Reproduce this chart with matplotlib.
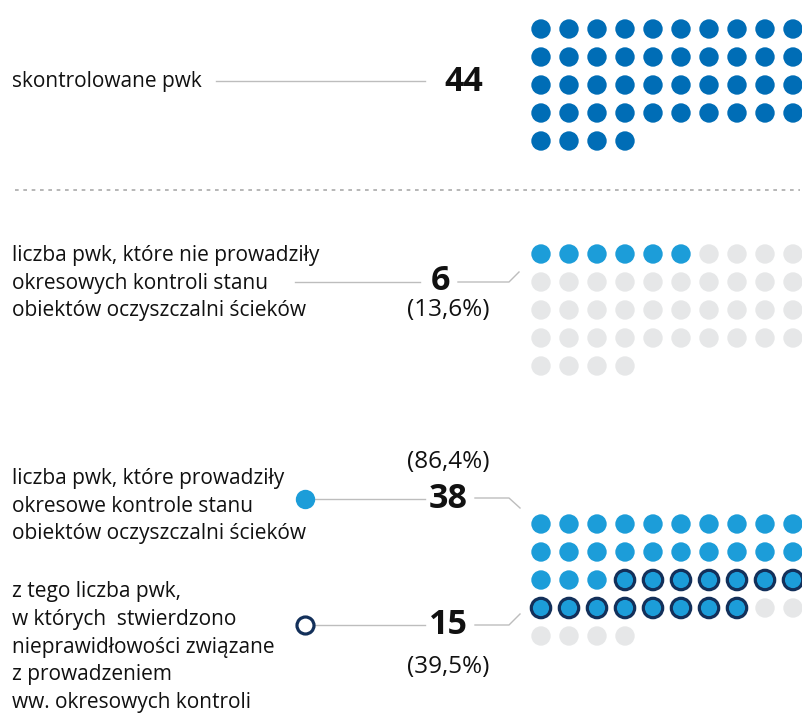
import matplotlib
matplotlib.use("Agg")
import matplotlib.pyplot as plt

plt.rcParams['font.family'] = ['Open Sans', 'DejaVu Sans']

# data
total = 44
not_controlled = 6
controlled = 38
irregular = 15
pct_not = "(13,6%)"
pct_yes = "(86,4%)"
pct_irr = "(39,5%)"

label_total = "skontrolowane pwk"
label_not = "liczba pwk, które nie prowadziły\nokresowych kontroli stanu\nobiektów oczyszczalni ścieków"
label_yes = "liczba pwk, które prowadziły\nokresowe kontrole stanu\nobiektów oczyszczalni ścieków"
label_irr = ("z tego liczba pwk,\nw których  stwierdzono\nnieprawidłowości związane\n"
             "z prowadzeniem\nww. okresowych kontroli")

DARK = "#006db6"
LIGHT = "#1c9dd9"
GREY = "#e6e7e8"
NAVY = "#13305a"
LINE = "#bdbdbd"
TXT = "#111111"

W, H = 802, 713
fig = plt.figure(figsize=(W / 100, H / 100), dpi=100)
ax = fig.add_axes([0, 0, 1, 1])
ax.set_xlim(0, W)
ax.set_ylim(H, 0)
ax.axis("off")

COLS = 10
X0, DX = 541, 28
DOT = 195


def grid(y0, n_total, colors, edges=None):
    xs, ys = [], []
    for i in range(n_total):
        r, c = divmod(i, COLS)
        xs.append(X0 + c * DX)
        ys.append(y0 + r * 28)
    if edges is None:
        ax.scatter(xs, ys, s=DOT, c=colors, linewidths=0, zorder=3)
    else:
        ax.scatter(xs, ys, s=DOT, c=colors, edgecolors=edges,
                   linewidths=[2.3 if e != "none" else 0 for e in edges], zorder=3)


# grid 1: all controlled
grid(29, total, [DARK] * total)

# grid 2: not controlled
grid(254, total, [LIGHT] * not_controlled + [GREY] * (total - not_controlled))

# grid 3: controlled, last ones with irregularities
cols3 = [LIGHT] * controlled + [GREY] * (total - controlled)
edges3 = ["none"] * (controlled - irregular) + [NAVY] * irregular + ["none"] * (total - controlled)
grid(524, total, cols3, edges3)

# separator
ax.plot([15, 800], [190, 190], color="#aaaaaa", lw=1.2, ls=(0, (2.2, 2.8)))

fs = 15
fs_num = 24.5
fs_pct = 17.5
ls = 1.42
# block 1
ax.text(12, 81, label_total, fontsize=fs, color=TXT, va="center", ha="left")
ax.plot([216, 425], [81, 81], color=LINE, lw=1)
ax.text(464, 82, str(total), fontsize=fs_num, fontweight="bold", color=TXT, va="center", ha="center")

# block 2
ax.text(12, 283, label_not, fontsize=fs, color=TXT, va="center", ha="left", linespacing=ls)
ax.plot([295, 420], [282, 282], color=LINE, lw=1)
ax.text(440, 281, str(not_controlled), fontsize=fs_num, fontweight="bold", color=TXT, va="center", ha="center")
ax.text(448, 310, pct_not, fontsize=fs_pct, color=TXT, va="center", ha="center")
ax.plot([458, 509, 519], [282, 282, 272], color=LINE, lw=1)

# block 3
ax.text(12, 506, label_yes, fontsize=fs, color=TXT, va="center", ha="left", linespacing=ls)
ax.scatter([305], [499], s=DOT, c=LIGHT, linewidths=0, zorder=3)
ax.plot([314, 425], [499, 499], color=LINE, lw=1)
ax.text(448, 499, str(controlled), fontsize=fs_num, fontweight="bold", color=TXT, va="center", ha="center")
ax.text(448, 462, pct_yes, fontsize=fs_pct, color=TXT, va="center", ha="center")
ax.plot([475, 509, 520], [498, 498, 508], color=LINE, lw=1)

ax.text(12, 647, label_irr, fontsize=fs, color=TXT, va="center", ha="left", linespacing=ls)
ax.scatter([305], [625], s=150, c="white", edgecolors=NAVY, linewidths=2.3, zorder=3)
ax.plot([315, 425], [625, 625], color=LINE, lw=1)
ax.text(448, 625, str(irregular), fontsize=fs_num, fontweight="bold", color=TXT, va="center", ha="center")
ax.text(448, 667, pct_irr, fontsize=fs_pct, color=TXT, va="center", ha="center")
ax.plot([475, 509, 520], [625, 625, 614], color=LINE, lw=1)

fig.savefig("out.png", dpi=100, facecolor="white")
